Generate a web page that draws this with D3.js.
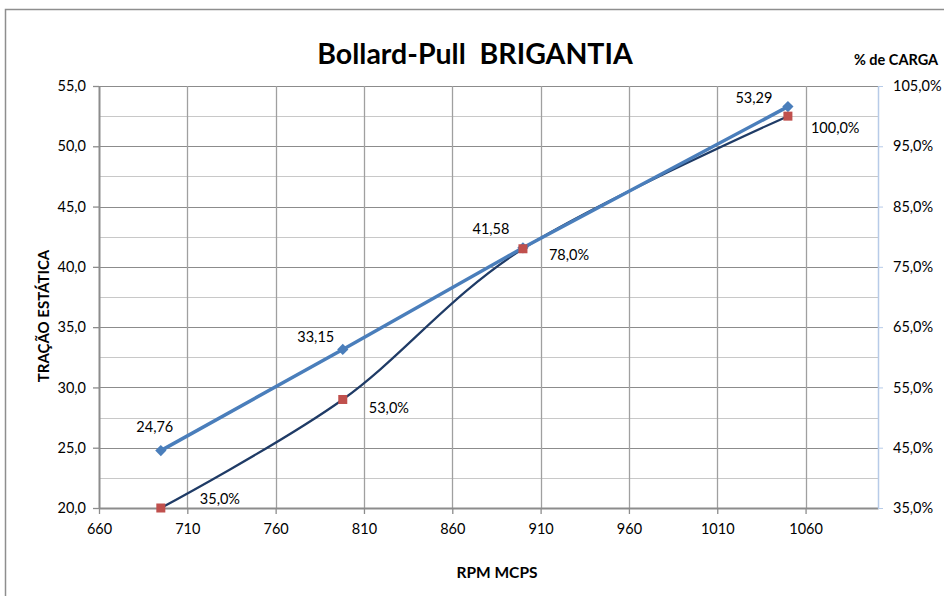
<!DOCTYPE html>
<html>
<head>
<meta charset="utf-8">
<script src="https://cdn.jsdelivr.net/npm/d3@7"></script>
<style>
  body { margin: 0; background: #fff; }
  text { font-family: Lato, "Open Sans", sans-serif; fill: #000; }
</style>
</head>
<body>
<div id="chart"></div>
<script>
const width = 944;
const height = 596;

// data
const rpm = [695, 798, 900, 1050];
const tracao = [24.76, 33.15, 41.58, 53.29];
const carga = [0.35, 0.53, 0.78, 1.00];

const xTicks = [660, 710, 760, 810, 860, 910, 960, 1010, 1060];
const yTicks = [20, 25, 30, 35, 40, 45, 50, 55];
const y2Ticks = [0.35, 0.45, 0.55, 0.65, 0.75, 0.85, 0.95, 1.05];

const margin = { top: 86, right: 66, bottom: 88, left: 99 };

const svg = d3.select("#chart")
  .append("svg")
  .attr("width", width)
  .attr("height", height);

// chart frame
svg.append("rect")
  .attr("x", 5.5)
  .attr("y", 9.5)
  .attr("width", 1000)
  .attr("height", 700)
  .attr("fill", "none")
  .attr("stroke", "#8e8e8e")
  .attr("stroke-width", 1.5);

const x = d3.scaleLinear([660, 1101], [margin.left, width - margin.right]);
const y = d3.scaleLinear([20, 55], [height - margin.bottom, margin.top]);
const y2 = d3.scaleLinear([0.35, 1.05], [height - margin.bottom, margin.top]);

const pt = d3.formatLocale({ decimal: ",", thousands: ".", grouping: [3], currency: ["R$", ""] });
const fmtNum = pt.format(".2f");
const fmtAxis = pt.format(".1f");
const fmtPct = pt.format(".1%");

// minor horizontal gridlines
svg.append("g")
  .selectAll("line")
  .data(d3.range(22.5, 55, 5))
  .join("line")
  .attr("x1", x(660))
  .attr("x2", x(1101))
  .attr("y1", d => Math.round(y(d)) + 0.5)
  .attr("y2", d => Math.round(y(d)) + 0.5)
  .attr("stroke", "#c8c8c8")
  .attr("stroke-width", 1);

// major horizontal gridlines
svg.append("g")
  .selectAll("line")
  .data(yTicks)
  .join("line")
  .attr("x1", x(660))
  .attr("x2", x(1101))
  .attr("y1", d => Math.round(y(d)) + 0.5)
  .attr("y2", d => Math.round(y(d)) + 0.5)
  .attr("stroke", "#8c8c8c")
  .attr("stroke-width", 1);

// vertical gridlines
svg.append("g")
  .selectAll("line")
  .data(xTicks.slice(1))
  .join("line")
  .attr("x1", d => Math.round(x(d)) + 0.5)
  .attr("x2", d => Math.round(x(d)) + 0.5)
  .attr("y1", y(55))
  .attr("y2", y(20))
  .attr("stroke", "#a0a0a0")
  .attr("stroke-width", 1.3);

// bottom axis
const xAxis = svg.append("g")
  .attr("transform", `translate(0,${y(20)})`)
  .call(d3.axisBottom(x).tickValues(xTicks).tickFormat(d3.format("d")).tickSize(6).tickSizeOuter(0).tickPadding(10));

// left axis
const yAxis = svg.append("g")
  .attr("transform", `translate(${x(660)},0)`)
  .call(d3.axisLeft(y).tickValues(yTicks).tickFormat(fmtAxis).tickSize(6).tickSizeOuter(0).tickPadding(7));

[xAxis, yAxis].forEach(g => {
  g.select(".domain").attr("stroke", "#8c8c8c").attr("stroke-width", 2);
  g.selectAll(".tick line").attr("stroke", "#8c8c8c").attr("stroke-width", 1.3);
  g.selectAll(".tick text").attr("font-size", "14.5px").attr("font-family", "Lato, sans-serif").attr("fill", "#000");
});

// right axis
const y2Axis = svg.append("g")
  .attr("transform", `translate(${x(1101)},0)`)
  .call(d3.axisRight(y2).tickValues(y2Ticks).tickFormat(fmtPct).tickSize(5).tickSizeOuter(0).tickPadding(10));
y2Axis.select(".domain").attr("stroke", "#b7cbe8").attr("stroke-width", 1.5);
y2Axis.selectAll(".tick line").attr("stroke", "#b7cbe8");
y2Axis.selectAll(".tick text").attr("font-size", "14.5px").attr("font-family", "Lato, sans-serif").attr("fill", "#000");

// % carga series: smoothed navy line with red squares
const cargaPts = rpm.map((r, i) => [x(r), y2(carga[i])]);
svg.append("path")
  .attr("d", d3.line().curve(d3.curveCatmullRom.alpha(0))(cargaPts))
  .attr("fill", "none")
  .attr("stroke", "#1f3b66")
  .attr("stroke-width", 2.2);

// traction series: straight blue line with diamonds
const tracaoPts = rpm.map((r, i) => [x(r), y(tracao[i])]);
svg.append("path")
  .attr("d", d3.line()(tracaoPts))
  .attr("fill", "none")
  .attr("stroke", "#4a7ebb")
  .attr("stroke-width", 3.5);

svg.append("g")
  .selectAll("path")
  .data(tracaoPts)
  .join("path")
  .attr("d", d3.symbol(d3.symbolDiamond2, 80))
  .attr("transform", d => `translate(${d[0]},${d[1]})`)
  .attr("fill", "#4a7ebb");

svg.append("g")
  .selectAll("rect")
  .data(cargaPts)
  .join("rect")
  .attr("x", d => d[0] - 4.5)
  .attr("y", d => d[1] - 4.5)
  .attr("width", 9)
  .attr("height", 9)
  .attr("fill", "#c0504d");

// data labels (nudged like the original)
const blueNudge = [[-6, -24], [-27, -13], [-32, -19], [-34, -9]];
const redNudge = [[39, -9], [26, 8], [26, 6], [23, 12]];

svg.append("g")
  .selectAll("text")
  .data(tracao)
  .join("text")
  .attr("x", (d, i) => x(rpm[i]) + blueNudge[i][0])
  .attr("y", (d, i) => y(d) + blueNudge[i][1])
  .attr("dy", "0.35em")
  .attr("text-anchor", "middle")
  .attr("font-size", "14.5px")
  .text(d => fmtNum(d));

svg.append("g")
  .selectAll("text")
  .data(carga)
  .join("text")
  .attr("x", (d, i) => x(rpm[i]) + redNudge[i][0])
  .attr("y", (d, i) => y2(d) + redNudge[i][1])
  .attr("dy", "0.35em")
  .attr("font-size", "14.5px")
  .text(d => fmtPct(d));

// titles
svg.append("text")
  .attr("x", 475)
  .attr("y", 64)
  .attr("text-anchor", "middle")
  .attr("font-size", "28.5px")
  .attr("font-weight", "bold")
  .attr("xml:space", "preserve")
  .text("Bollard-Pull  BRIGANTIA");

svg.append("text")
  .attr("x", 896)
  .attr("y", 65)
  .attr("text-anchor", "middle")
  .attr("font-size", "14.5px")
  .attr("font-weight", "bold")
  .text("% de CARGA");

svg.append("text")
  .attr("transform", `translate(49,${(y(20) + y(55)) / 2 + 19}) rotate(-90)`)
  .attr("text-anchor", "middle")
  .attr("font-size", "15px")
  .attr("font-weight", "bold")
  .text("TRAÇÃO ESTÁTICA");

svg.append("text")
  .attr("x", 497)
  .attr("y", 578)
  .attr("text-anchor", "middle")
  .attr("font-size", "15.5px")
  .attr("font-weight", "bold")
  .text("RPM MCPS");
</script>
</body>
</html>
